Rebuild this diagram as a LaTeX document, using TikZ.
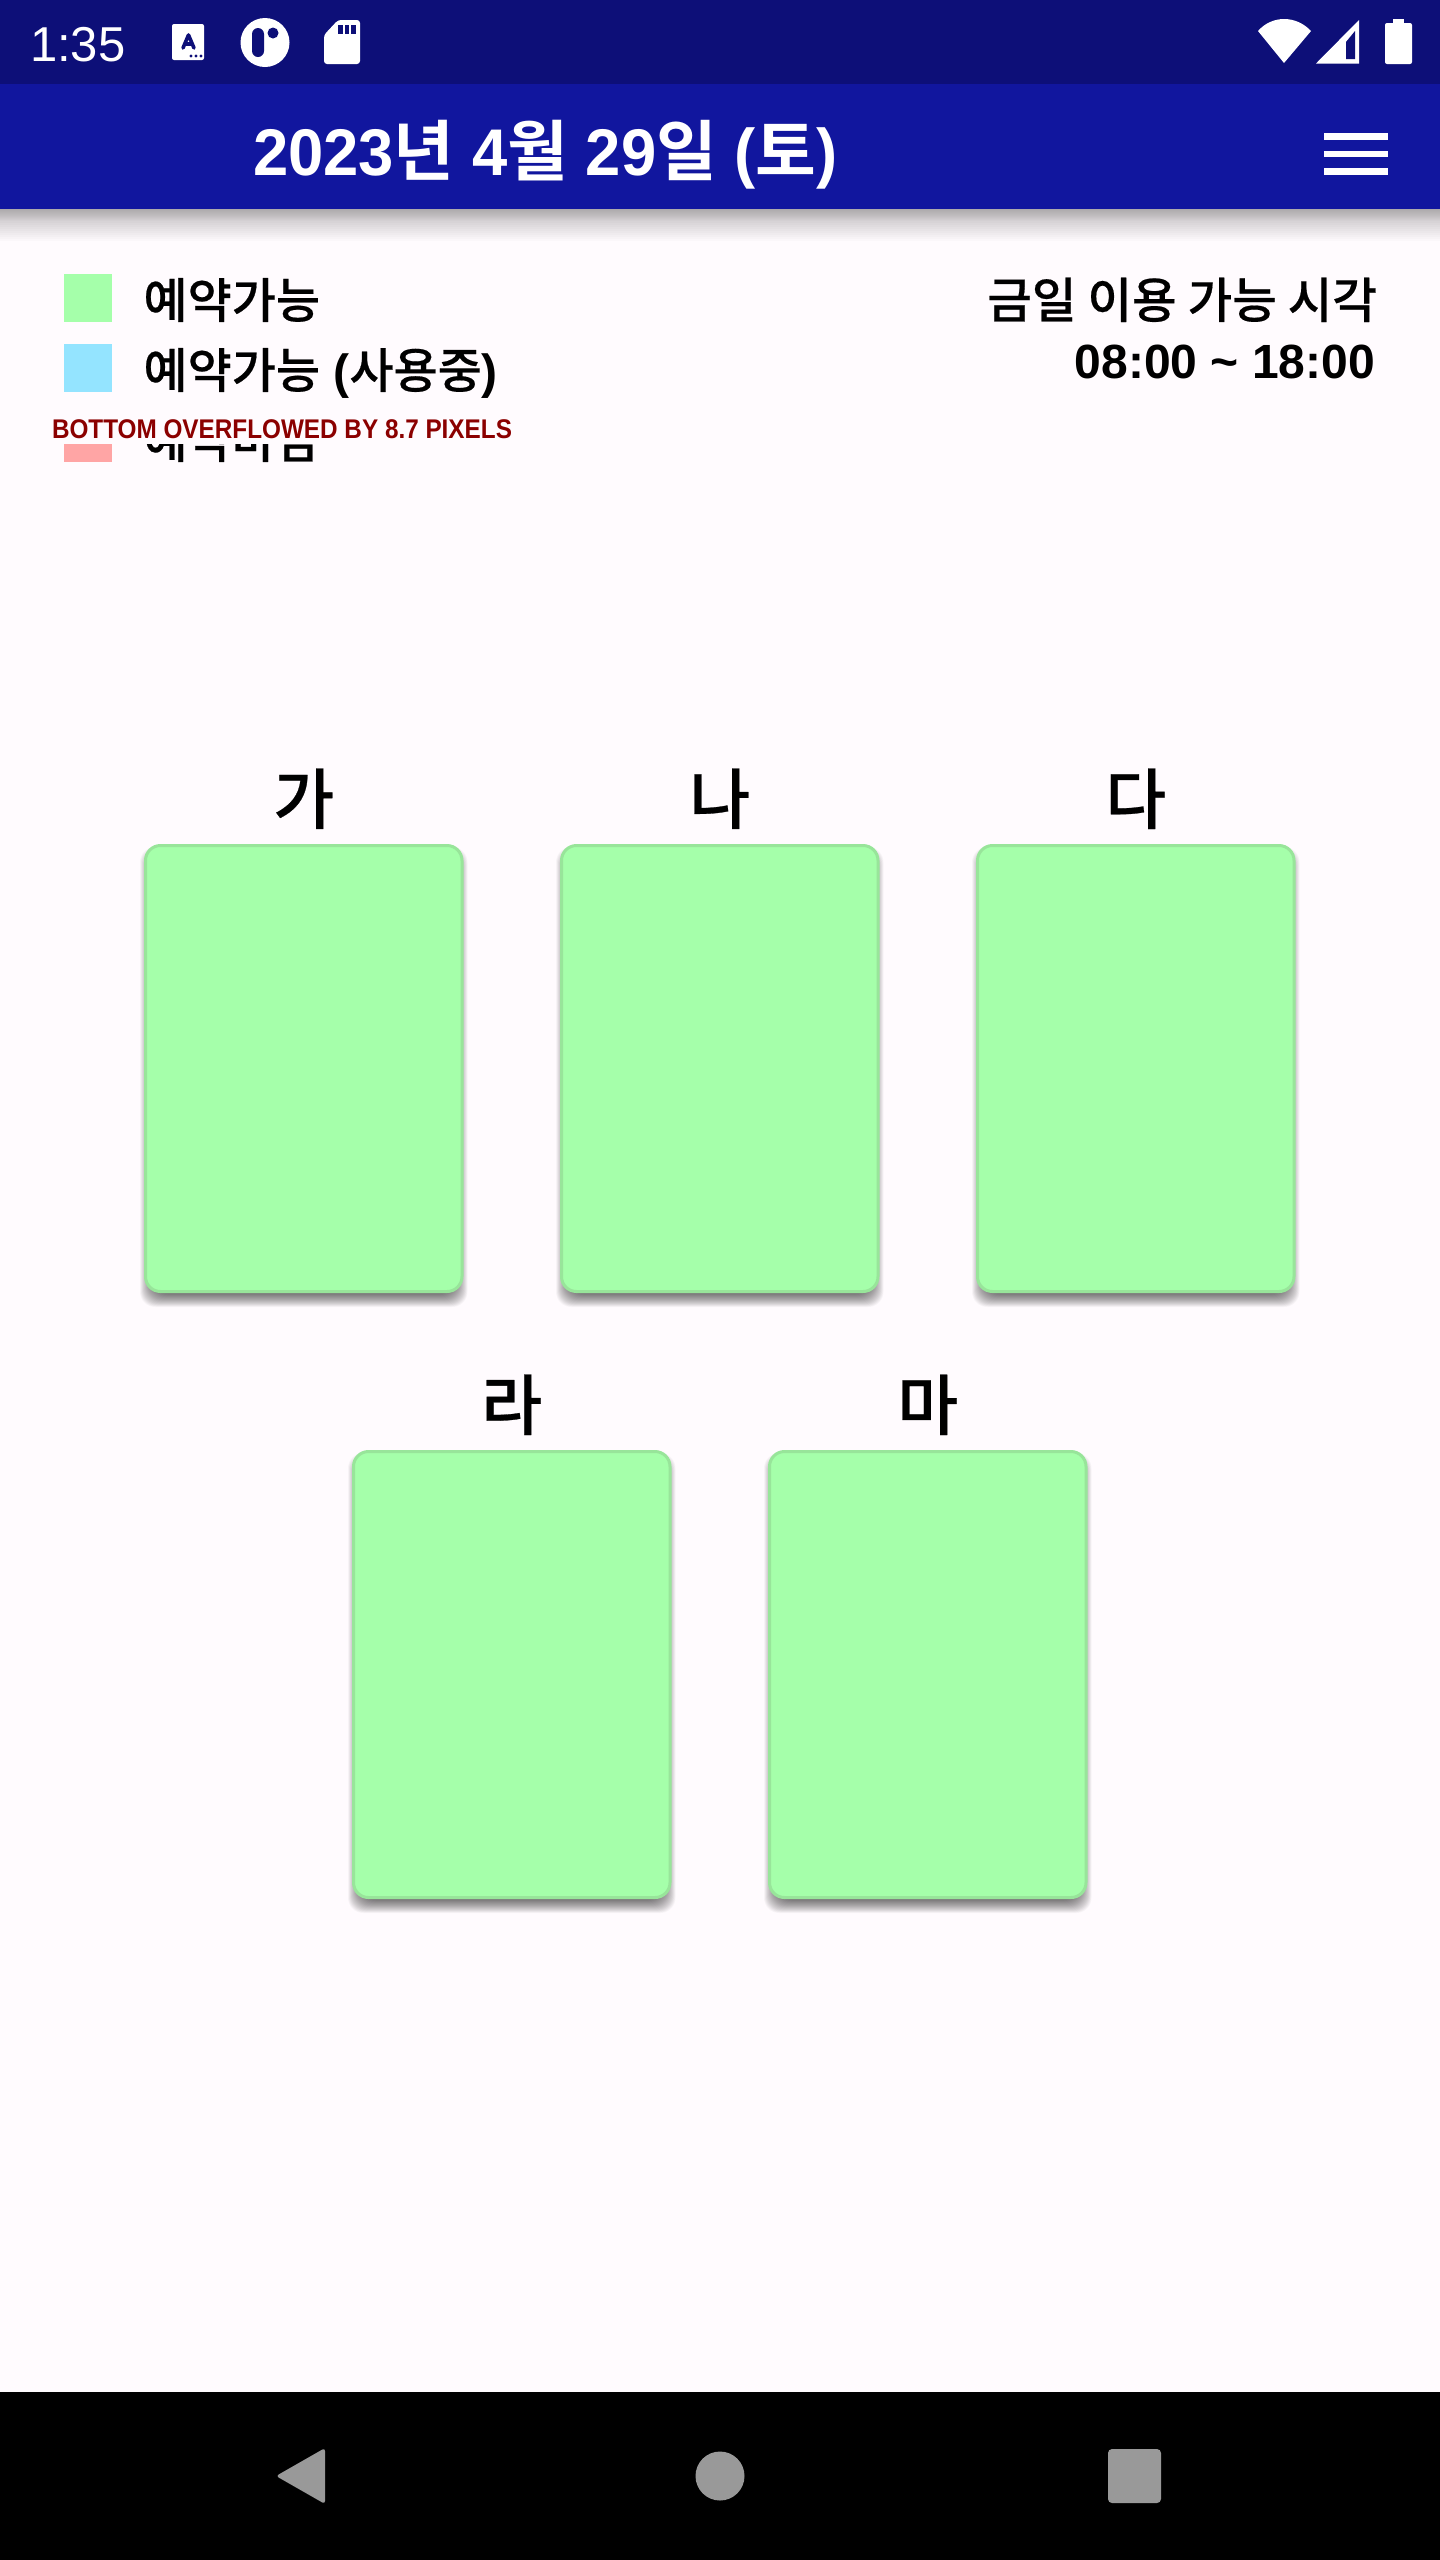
\documentclass[tikz,border=0pt]{standalone}
\usepackage{fontspec}
\setmainfont{Liberation Sans}
\newfontfamily\krfont[UprightFont=* Medium,UprightFeatures={FakeBold=.4},BoldFont=* Bold]{Noto Sans CJK KR}
\newfontfamily\titlefont[FakeStretch=.96]{Liberation Sans}
\newfontfamily\warnfont[FakeStretch=.9]{Liberation Sans}
\usetikzlibrary{positioning,backgrounds,calc}

\definecolor{pagebg}{HTML}{FFFBFE}
\definecolor{statusbar}{HTML}{0D0F78}
\definecolor{appbar}{HTML}{11169E}
\definecolor{slotfill}{HTML}{A5FFAA}
\definecolor{slotline}{HTML}{98E59A}
\definecolor{usedfill}{HTML}{94E4FF}
\definecolor{shutfill}{HTML}{FFA5A5}
\definecolor{navicon}{HTML}{999999}
\definecolor{overflowred}{HTML}{8B0000}

\newcommand{\ko}[1]{{\krfont #1}}

\begin{document}
\begin{tikzpicture}[x=1pt,y=-1pt,inner sep=0pt,outer sep=0pt]
  \tikzstyle{every node}=[inner sep=0pt,outer sep=0pt]
  \tikzstyle{slot}=[draw=slotline,fill=slotfill,line width=3pt,rounded corners=15pt,
    minimum width=316.5pt,minimum height=446pt]
  \tikzstyle{slotname}=[font=\fontsize{66}{66}\selectfont\krfont,anchor=base]
  \tikzstyle{legendbox}=[minimum width=48pt,minimum height=48pt,anchor=north west]
  \tikzstyle{legendtext}=[font=\fontsize{48}{48}\selectfont\bfseries,anchor=base west]
  \tikzstyle{hourstext}=[font=\fontsize{48}{48}\selectfont\bfseries,anchor=base east]
  \useasboundingbox (0,0) rectangle (1440,2560);

  % Slots
  \node[slot,anchor=north west] (A) at (145.5,845.5) {};
  \node[slot] (B) [right=99.5pt of A] {};
  \node[slot] (C) [right=99.5pt of B] {};
  \node[slot,anchor=north west] (D) at (353.5,1451.5) {};
  \node[slot] (E) [right=99.5pt of D] {};

  % Slot names
  \node[slotname] (nameA) [above=22pt of A,anchor=base] {가};
  \node[slotname] (nameB) [above=22pt of B,anchor=base] {나};
  \node[slotname] (nameC) [above=22pt of C,anchor=base] {다};
  \node[slotname] (nameD) [above=22pt of D,anchor=base] {라};
  \node[slotname] (nameE) [above=22pt of E,anchor=base] {마};

  % Page and shadows
  \begin{scope}[on background layer]
    \fill[pagebg] (0,0) rectangle (1440,2560);
    \foreach \c in {A,B,C,D,E}
      \foreach \g in {-6,-5.5,...,7}
        \fill[black,opacity=.024,rounded corners=15pt]
          ($(\c.north west)+(1.5-\g,8.5-\g)$) rectangle ($(\c.south east)+(\g-1.5,\g+8.5)$);
    \foreach \g in {1,...,12,14,16,...,32}
      \fill[black,opacity=.014] (0,209) rectangle (1440,209+\g);
  \end{scope}

  % Bars
  \fill[statusbar] (0,0) rectangle (1440,84);
  \fill[appbar] (0,84) rectangle (1440,209);
  \fill[black] (0,2392) rectangle (1440,2560);

  % Status bar, left
  \node[font=\fontsize{49}{49}\selectfont,text=white,anchor=base west] (clock) at (30,61) {1:35};
  \fill[white,rounded corners=2pt] (172,24) rectangle (204,60);
  \draw[statusbar,line width=3.6pt,line cap=round,line join=round] (183,48) -- (188.5,35) -- (194,48) (185,44) -- (192,44);
  \foreach \x in {191,196,201}
    \fill[statusbar] (\x,56) circle (1.6pt);
  \fill[white] (265,42.5) circle (24.5pt);
  \fill[statusbar,rounded corners=6pt] (252,28) rectangle (264,57);
  \fill[statusbar] (273,33) circle (5.5pt);
  \fill[white,rounded corners=3pt] (338,20) -- (360,20) -- (360,64) -- (324,64) -- (324,35) -- cycle;
  \foreach \x in {338,344.5,351}
    \fill[statusbar] (\x,25) rectangle (\x+4.8,33.5);

  % Status bar, right
  \fill[white] (1284,63) -- (1258,31) .. controls (1272,15) and (1296,15) .. (1311,31) -- cycle;
  \fill[white] (1316,63.5) -- (1359,20) -- (1359,63.5) -- cycle;
  \fill[statusbar] (1346,59) -- (1346,42) -- (1355,31) -- (1355,59) -- cycle;
  \fill[white,rounded corners=2pt] (1385,23) rectangle (1412,64);
  \fill[white] (1393,19) rectangle (1404,24);

  % App bar
  \node[font=\fontsize{66}{66}\selectfont\bfseries\titlefont,text=white,anchor=base west] (title) at (253,175)
    {2023\ko{년} 4\ko{월} 29\ko{일} (\ko{토})};
  \foreach \y in {133,150.5,168}
    \fill[white] (1324,\y) rectangle (1388,\y+6.6);

  % Legend
  \node[legendbox,fill=slotfill] (boxfree) at (64,274) {};
  \node[legendbox,fill=usedfill] (boxused) at (64,344) {};
  \node[legendtext] (textfree) at (143.5,318) {\ko{\mdseries 예약가능}};
  \node[legendtext] (textused) at (143.5,388) {\ko{\mdseries 예약가능} (\ko{\mdseries 사용중})};
  \begin{scope}
    \clip (0,444) rectangle (1440,470);
    \node[legendbox,fill=shutfill] (boxshut) at (64,414) {};
    \node[legendtext] (textshut) at (143.5,458) {\ko{\mdseries 예약마감}};
  \end{scope}
  \node[font=\fontsize{27}{27}\selectfont\bfseries\warnfont,text=overflowred,anchor=base west] (overflow) at (52,438)
    {BOTTOM OVERFLOWED BY 8.7 PIXELS};

  % Hours
  \node[hourstext] (hourstop) at (1377,318) {\fontsize{48.5}{48.5}\selectfont\ko{\mdseries 금일 이용 가능 시각}};
  \node[hourstext] (hoursbot) at (1375,378) {08:00 \textasciitilde{} 18:00};

  % Navigation bar
  \fill[navicon,rounded corners=3pt] (325,2448) -- (325,2504) -- (276,2476) -- cycle;
  \fill[navicon] (720,2476) circle (24.5pt);
  \fill[navicon,rounded corners=4pt] (1108,2449) rectangle (1161,2503);
\end{tikzpicture}
\end{document}
